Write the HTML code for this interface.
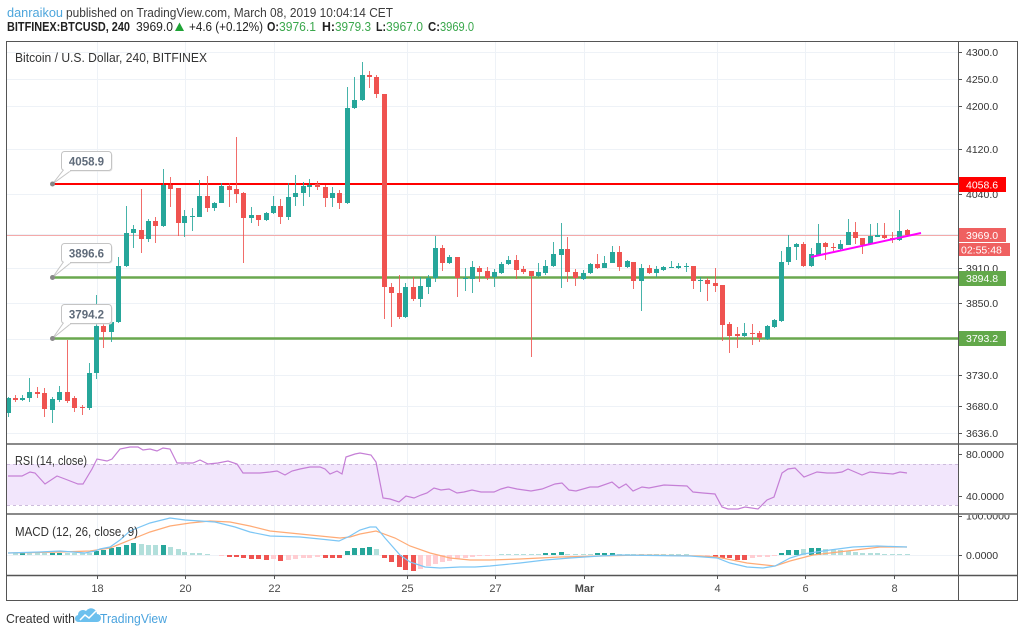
<!DOCTYPE html>
<html><head><meta charset="utf-8"><style>html,body{margin:0;padding:0;background:#fff}svg{display:block}</style></head>
<body>
<svg width="1024" height="635" viewBox="0 0 1024 635" xmlns="http://www.w3.org/2000/svg" font-family="'Liberation Sans', Arial, sans-serif">
<rect width="1024" height="635" fill="#fff"/>
<!-- header -->
<text x="7" y="17" font-size="12.5" fill="#4ea6dc" textLength="56" lengthAdjust="spacingAndGlyphs">danraikou</text>
<text x="66" y="17" font-size="12.5" fill="#3c3c3c" textLength="327" lengthAdjust="spacingAndGlyphs">published on TradingView.com, March 08, 2019 10:04:14 CET</text>
<g font-size="12.5" fill="#222">
<text x="7" y="31" font-weight="bold" textLength="123" lengthAdjust="spacingAndGlyphs">BITFINEX:BTCUSD, 240</text>
<text x="136" y="31" textLength="37" lengthAdjust="spacingAndGlyphs">3969.0</text>
<polygon points="175,31 184,31 179.5,22.5" fill="#1fa336"/>
<text x="189" y="31" textLength="74" lengthAdjust="spacingAndGlyphs">+4.6 (+0.12%)</text>
<text x="267" y="31" font-weight="bold" textLength="12" lengthAdjust="spacingAndGlyphs">O:</text>
<text x="279" y="31" fill="#3aa74c" textLength="37" lengthAdjust="spacingAndGlyphs">3976.1</text>
<text x="322" y="31" font-weight="bold" textLength="13" lengthAdjust="spacingAndGlyphs">H:</text>
<text x="335" y="31" fill="#3aa74c" textLength="36" lengthAdjust="spacingAndGlyphs">3979.3</text>
<text x="376" y="31" font-weight="bold" textLength="10" lengthAdjust="spacingAndGlyphs">L:</text>
<text x="386" y="31" fill="#3aa74c" textLength="37" lengthAdjust="spacingAndGlyphs">3967.0</text>
<text x="428" y="31" font-weight="bold" textLength="12" lengthAdjust="spacingAndGlyphs">C:</text>
<text x="440" y="31" fill="#3aa74c" textLength="34" lengthAdjust="spacingAndGlyphs">3969.0</text>
</g>

<!-- grid -->
<g stroke="#eef2f7" stroke-width="1">
<path d="M7 52.5H958M7 79.5H958M7 106.5H958M7 149.5H958M7 194.5H958M7 234.5H958M7 268.5H958M7 303.5H958M7 339.5H958M7 375.5H958M7 406.5H958M7 433.5H958M7 555.5H958"/>
<path d="M97.5 42V575M185.5 42V575M274.5 42V575M407.5 42V575M495.5 42V575M584.5 42V575M717.5 42V575M805.5 42V575M894.5 42V575"/>
</g>

<!-- RSI band -->
<rect x="7" y="464" width="951" height="41" fill="#f2e6fc"/>
<path d="M7 464.5H958M7 505.5H958" stroke="#cdbcdc" stroke-dasharray="3 3" stroke-width="1"/>

<!-- current price line -->
<path d="M7 235.5H958" stroke="#f4a9a9" stroke-width="1"/>
<!-- horizontal levels -->
<path d="M52 184H958" stroke="#ff0000" stroke-width="2"/>
<path d="M52 277.5H958M52 338.5H958" stroke="#6aa84f" stroke-width="2.5"/>

<!-- candles -->
<path fill="none" stroke="#26a69a" stroke-width="1" stroke-opacity="0.85" d="M8.5 397V417M22.5 395V401M29.5 378V402M52.5 397V423M59.5 386V402M89.5 363V410M96.5 295V379M111.5 320V342M118.5 257V323M126.5 206V267M133.5 225V248M148.5 219V242M163.5 169V227M184.5 210V237M192.5 208V231M199.5 180V217M214.5 202V211M221.5 183V203M251.5 207V223M266.5 212V221M273.5 196V214M288.5 183V220M295.5 175V206M303.5 182V206M309.5 179V197M332.5 187V207M347.5 87V204M354.5 77V109M362.5 62V101M405.5 283V318M420.5 277V307M428.5 275V294M435.5 236V282M449.5 255V264M465.5 268V291M472.5 261V293M494.5 269V287M501.5 262V274M508.5 256V265M538.5 263V277M545.5 260V275M553.5 242V267M561.5 223V288M583.5 270V280M590.5 263V274M604.5 256V268M612.5 246V263M627.5 260V268M641.5 264V311M656.5 266V277M663.5 266V271M671.5 261V268M678.5 263V269M686.5 263V272M700.5 277V292M744.5 323V337M767.5 325V340M774.5 319V328M781.5 251V322M788.5 235V265M796.5 243V260M811.5 248V267M818.5 224V256M840.5 240V251M848.5 219V245M870.5 224V244M877.5 223V237M899.5 210V241"/>
<path fill="#26a69a" d="M6 398h5v15h-5zM20 398h5v2h-5zM27 392h5v6h-5zM50 399h5v11h-5zM57 392h5v8h-5zM87 373h5v35h-5zM94 326h5v47h-5zM109 322h5v10h-5zM116 266h5v56h-5zM124 233h5v33h-5zM131 229h5v4h-5zM146 221h5v18h-5zM161 185h5v41h-5zM182 216h5v7h-5zM190 216h5v1h-5zM197 196h5v21h-5zM212 203h5v5h-5zM219 186h5v17h-5zM249 215h5v3h-5zM264 213h5v7h-5zM271 206h5v7h-5zM286 197h5v20h-5zM293 193h5v4h-5zM301 186h5v7h-5zM307 185h5v2h-5zM330 193h5v5h-5zM345 108h5v95h-5zM352 100h5v8h-5zM360 75h5v25h-5zM403 287h5v30h-5zM418 286h5v13h-5zM426 278h5v9h-5zM433 248h5v30h-5zM447 257h5v6h-5zM463 278h5v1h-5zM470 267h5v12h-5zM492 272h5v5h-5zM499 264h5v9h-5zM506 260h5v4h-5zM536 272h5v4h-5zM543 266h5v7h-5zM551 254h5v12h-5zM559 249h5v6h-5zM581 273h5v6h-5zM588 264h5v9h-5zM602 263h5v5h-5zM610 252h5v11h-5zM625 261h5v6h-5zM639 268h5v13h-5zM654 269h5v4h-5zM661 267h5v3h-5zM669 267h5v1h-5zM676 266h5v2h-5zM684 266h5v1h-5zM698 280h5v1h-5zM742 333h5v3h-5zM765 326h5v13h-5zM772 320h5v7h-5zM779 262h5v59h-5zM786 247h5v15h-5zM794 244h5v3h-5zM809 254h5v12h-5zM816 243h5v12h-5zM838 244h5v5h-5zM846 232h5v13h-5zM868 236h5v8h-5zM875 235h5v2h-5zM897 231h5v9h-5z"/>
<path fill="none" stroke="#ef5350" stroke-width="1" stroke-opacity="0.85" d="M15.5 395V402M37.5 387V398M44.5 388V417M67.5 340V403M74.5 396V412M82.5 405V415M103.5 322V348M141.5 189V253M155.5 217V243M170.5 177V207M178.5 188V236M207.5 176V212M229.5 183V207M236.5 137V203M243.5 192V263M258.5 215V226M280.5 199V224M317.5 181V190M325.5 185V207M339.5 190V209M369.5 71V88M376.5 75V98M384.5 94V319M391.5 283V327M399.5 275V319M413.5 277V301M442.5 245V271M457.5 257V297M479.5 266V282M487.5 267V280M516.5 255V279M523.5 266V274M531.5 271V357M567.5 237V282M575.5 269V286M597.5 254V269M619.5 246V271M633.5 262V289M649.5 265V274M693.5 266V289M707.5 278V301M715.5 268V292M722.5 285V341M729.5 322V353M737.5 327V348M752.5 324V345M759.5 331V342M803.5 242V267M825.5 242V260M833.5 243V251M855.5 222V244M862.5 238V254M884.5 223V239M892.5 232V243M907.5 229V236"/>
<path fill="#ef5350" d="M13 398h5v2h-5zM35 392h5v2h-5zM42 393h5v16h-5zM65 392h5v9h-5zM72 398h5v10h-5zM80 407h5v1h-5zM101 326h5v6h-5zM139 230h5v9h-5zM153 221h5v5h-5zM168 185h5v4h-5zM176 188h5v35h-5zM205 196h5v12h-5zM227 186h5v4h-5zM234 189h5v5h-5zM241 193h5v25h-5zM256 215h5v5h-5zM278 206h5v11h-5zM315 184h5v3h-5zM323 187h5v11h-5zM337 193h5v10h-5zM367 75h5v2h-5zM374 77h5v17h-5zM382 94h5v193h-5zM389 287h5v6h-5zM397 293h5v24h-5zM411 287h5v12h-5zM440 248h5v15h-5zM455 257h5v21h-5zM477 268h5v4h-5zM485 271h5v7h-5zM514 260h5v10h-5zM521 269h5v3h-5zM529 271h5v5h-5zM565 249h5v23h-5zM573 272h5v6h-5zM595 264h5v4h-5zM617 252h5v15h-5zM631 262h5v19h-5zM647 268h5v5h-5zM691 266h5v15h-5zM705 280h5v4h-5zM713 283h5v3h-5zM720 285h5v40h-5zM727 324h5v12h-5zM735 334h5v2h-5zM750 333h5v1h-5zM757 333h5v5h-5zM801 244h5v22h-5zM823 243h5v4h-5zM831 247h5v1h-5zM853 232h5v6h-5zM860 238h5v7h-5zM882 235h5v3h-5zM890 238h5v2h-5zM905 230h5v5h-5z"/>

<!-- trend line -->
<path d="M811 257L921 233" stroke="#ff00ff" stroke-width="2"/>

<!-- callouts -->
<g font-size="11.5" font-weight="bold" fill="#5f6b7a" text-anchor="middle">
<rect x="62.5" y="152.5" width="50" height="19" rx="3" fill="#e4e4e4"/>
<rect x="61.5" y="151.5" width="50" height="19" rx="3" fill="#fff" stroke="#c4c4c4"/>
<path d="M63 170.5L52.5 184L71 170.5" fill="#fff" stroke="#c4c4c4"/>
<path d="M64 170.5H70" stroke="#fff" stroke-width="1.5"/>
<circle cx="52.5" cy="184" r="2.5" fill="#888"/>
<text x="86.5" y="165.5">4058.9</text>

<rect x="62.5" y="244.5" width="50" height="19" rx="3" fill="#e4e4e4"/>
<rect x="61.5" y="243.5" width="50" height="19" rx="3" fill="#fff" stroke="#c4c4c4"/>
<path d="M63 262.5L52.5 277.5L71 262.5" fill="#fff" stroke="#c4c4c4"/>
<path d="M64 262.5H70" stroke="#fff" stroke-width="1.5"/>
<circle cx="52.5" cy="277.5" r="2.5" fill="#888"/>
<text x="86.5" y="257.5">3896.6</text>

<rect x="62.5" y="305.5" width="50" height="19" rx="3" fill="#e4e4e4"/>
<rect x="61.5" y="304.5" width="50" height="19" rx="3" fill="#fff" stroke="#c4c4c4"/>
<path d="M63 323.5L52.5 338.5L71 323.5" fill="#fff" stroke="#c4c4c4"/>
<path d="M64 323.5H70" stroke="#fff" stroke-width="1.5"/>
<circle cx="52.5" cy="338.5" r="2.5" fill="#888"/>
<text x="86.5" y="318.5">3794.2</text>
</g>

<!-- RSI -->
<polyline fill="none" stroke="#c57fd6" stroke-width="1.2" points="8,476 22,476 30,472 35,473 45,484 57,476 65,479 78,484 83,484 92,469 97,459 107,461 112,459 120,449 130,447 138,447 143,450 150,449 157,451 163,448 170,449 177,463 193,463 200,460 208,464 218,463 228,461 237,464 243,473 260,473 270,472 277,471 285,475 292,471 300,469 310,467 320,467 325,469 330,474 337,471 342,474 346,457 355,454 360,453 371,455 376,462 383,498 390,499 399,502 406,496 414,498 421,495 427,493 434,488 441,490 449,489 457,493 464,492 472,490 481,492 494,492 501,489 508,487 517,489 531,491 542,489 555,484 562,483 569,490 576,491 590,487 598,487 612,482 619,488 626,484 633,491 642,487 649,488 664,485 687,486 693,492 703,493 715,494 722,507 728,509 738,509 745,507 758,509 767,500 774,497 782,473 788,469 795,468 804,477 817,472 827,473 835,473 842,472 848,469 862,475 870,472 880,473 893,474 900,472 907,473"/>

<!-- MACD histogram -->
<path fill="#26a69a" d="M94 551h5v4h-5zM101 550h5v5h-5zM109 548h5v7h-5zM116 547h5v8h-5zM124 545h5v10h-5zM131 543h5v12h-5zM161 545h5v10h-5zM345 551h5v4h-5zM352 548h5v7h-5zM360 548h5v7h-5zM367 547h5v8h-5zM543 553h5v2h-5zM551 553h5v2h-5zM559 552h5v3h-5zM595 553h5v2h-5zM602 553h5v2h-5zM610 553h5v2h-5zM779 553h5v2h-5zM786 550h5v5h-5zM794 550h5v5h-5zM809 548h5v7h-5zM816 548h5v7h-5zM20 553h5v2h-5zM50 553h5v2h-5zM57 553h5v2h-5z"/>
<path fill="#b2dfdb" d="M13 553h5v2h-5zM27 553h5v2h-5zM35 553h5v2h-5zM42 553h5v2h-5zM65 553h5v2h-5zM72 553h5v2h-5zM80 553h5v2h-5zM87 553h5v2h-5zM139 544h5v11h-5zM146 545h5v10h-5zM153 545h5v10h-5zM168 547h5v8h-5zM176 549h5v6h-5zM182 552h5v3h-5zM190 553h5v2h-5zM197 553h5v2h-5zM205 554h5v1h-5zM374 549h5v6h-5zM499 554h5v1h-5zM506 554h5v1h-5zM514 554h5v1h-5zM521 554h5v1h-5zM529 554h5v1h-5zM536 554h5v1h-5zM565 554h5v1h-5zM573 554h5v1h-5zM581 554h5v1h-5zM588 554h5v1h-5zM617 554h5v1h-5zM625 554h5v1h-5zM631 554h5v1h-5zM639 554h5v1h-5zM647 554h5v1h-5zM654 554h5v1h-5zM661 554h5v1h-5zM669 554h5v1h-5zM676 554h5v1h-5zM684 554h5v1h-5zM801 549h5v6h-5zM823 549h5v6h-5zM831 550h5v5h-5zM838 550h5v5h-5zM846 551h5v4h-5zM853 552h5v3h-5zM860 553h5v2h-5zM868 553h5v2h-5zM875 553h5v2h-5zM882 554h5v1h-5zM890 554h5v1h-5zM897 554h5v1h-5zM905 554h5v1h-5z"/>
<path fill="#ef5350" d="M227 555h5v2h-5zM234 555h5v2h-5zM241 555h5v3h-5zM249 555h5v4h-5zM256 555h5v4h-5zM264 555h5v5h-5zM278 555h5v6h-5zM323 555h5v3h-5zM330 555h5v3h-5zM337 555h5v3h-5zM382 555h5v3h-5zM389 555h5v7h-5zM397 555h5v12h-5zM403 555h5v15h-5zM411 555h5v16h-5zM713 555h5v2h-5zM720 555h5v3h-5zM727 555h5v3h-5zM735 555h5v5h-5zM742 555h5v5h-5z"/>
<path fill="#ffcdd2" d="M219 555h5v1h-5zM271 555h5v4h-5zM286 555h5v5h-5zM293 555h5v4h-5zM301 555h5v3h-5zM307 555h5v3h-5zM315 555h5v2h-5zM418 555h5v14h-5zM426 555h5v11h-5zM433 555h5v9h-5zM440 555h5v7h-5zM447 555h5v6h-5zM455 555h5v4h-5zM463 555h5v3h-5zM470 555h5v2h-5zM477 555h5v1h-5zM485 555h5v1h-5zM705 555h5v1h-5zM750 555h5v3h-5zM757 555h5v2h-5zM765 555h5v2h-5zM772 555h5v1h-5z"/>
<!-- MACD lines -->
<polyline fill="none" stroke="#ffab76" stroke-width="1.2" points="8,553 60,552 90,551 110,548 130,540 150,532 170,526 190,523 210,521 230,522 250,526 270,531 300,534 320,536 340,538 350,537 360,534 376,531 395,538 410,546 430,553 450,558 470,560 490,560 520,559 560,557 600,556 640,555 700,556 717,557 747,563 775,566 790,561 813,555 847,551 880,547 907,547"/>
<polyline fill="none" stroke="#7cc6f5" stroke-width="1.2" points="8,553 40,552 60,551 85,553 95,551 100,549 110,547 120,540 130,531 150,523 170,518 185,520 200,521 215,522 235,527 250,532 270,536 300,537 320,539 339,541 350,536 360,530 370,527 376,527 385,538 400,555 410,562 425,567 440,568 460,567 475,567 490,566 520,563 545,560 570,558 600,556 620,555 690,556 717,558 730,563 747,567 763,568 775,566 790,558 803,554 830,550 853,547 877,546 907,547"/>

<!-- pane labels -->
<g fill="#333" font-size="12.5">
<text x="15" y="62" textLength="192" lengthAdjust="spacingAndGlyphs">Bitcoin / U.S. Dollar, 240, BITFINEX</text>
<text x="15" y="465" textLength="72" lengthAdjust="spacingAndGlyphs">RSI (14, close)</text>
<text x="15" y="536" textLength="123" lengthAdjust="spacingAndGlyphs">MACD (12, 26, close, 9)</text>
</g>

<!-- right axis -->
<rect x="959" y="42" width="58" height="558" fill="#fff"/>
<path stroke="#555" stroke-width="1" d="M958 52.5h4M958 79.5h4M958 106.5h4M958 149.5h4M958 194.5h4M958 268.5h4M958 303.5h4M958 375.5h4M958 406.5h4M958 433.5h4M958 454.5h4M958 496.5h4M958 516.5h4M958 555.5h4"/>
<g font-size="10.5" fill="#333">
<text x="966" y="56">4300.0</text>
<text x="966" y="83">4250.0</text>
<text x="966" y="110">4200.0</text>
<text x="966" y="153">4120.0</text>
<text x="966" y="198">4040.0</text>
<text x="966" y="272">3910.0</text>
<text x="966" y="307">3850.0</text>
<text x="966" y="379">3730.0</text>
<text x="966" y="410">3680.0</text>
<text x="966" y="437">3636.0</text>
<text x="966" y="458">80.0000</text>
<text x="966" y="500">40.0000</text>
<text x="966" y="519.5">100.0000</text>
<text x="966" y="559">0.0000</text>
</g>
<rect x="959" y="505" width="57" height="9" fill="#fff"/>
<!-- price labels -->
<g font-size="10.5" fill="#fff">
<rect x="958" y="177" width="48" height="15" fill="#ff0000"/>
<text x="966" y="188.5">4058.6</text>
<rect x="958" y="228" width="48" height="14" fill="#ef6060"/>
<text x="966" y="239">3969.0</text>
<rect x="958" y="243" width="52" height="13" fill="#ef6060"/>
<text x="961" y="253.5">02:55:48</text>
<rect x="958" y="271" width="48" height="15" fill="#62a84a"/>
<text x="966" y="282">3894.8</text>
<rect x="958" y="331" width="48" height="15" fill="#62a84a"/>
<text x="966" y="342">3793.2</text>
</g>

<!-- time axis -->
<rect x="7" y="576" width="951" height="24" fill="#fff"/>
<path stroke="#555" stroke-width="1" d="M97.5 575v4M185.5 575v4M274.5 575v4M407.5 575v4M495.5 575v4M584.5 575v4M717.5 575v4M805.5 575v4M894.5 575v4"/>
<g font-size="11" fill="#4a4a4a" text-anchor="middle">
<text x="97.5" y="592">18</text>
<text x="185.5" y="592">20</text>
<text x="274.5" y="592">22</text>
<text x="407.5" y="592">25</text>
<text x="495.5" y="592">27</text>
<text x="584.5" y="592" font-weight="bold">Mar</text>
<text x="717.5" y="592">4</text>
<text x="805.5" y="592">6</text>
<text x="894.5" y="592">8</text>
</g>

<!-- frame and separators -->
<path d="M6 444H1017M6 514H1017" stroke="#8a8a8a" stroke-width="2"/>
<path d="M6 575.5H1017" stroke="#555" stroke-width="1.5"/>
<path d="M958.5 41V600" stroke="#555" stroke-width="1"/>
<rect x="6.5" y="41.5" width="1011" height="559" fill="none" stroke="#555" stroke-width="1"/>

<!-- footer -->
<text x="6" y="623" font-size="13" fill="#333" textLength="69" lengthAdjust="spacingAndGlyphs">Created with</text>
<path d="M79 622h18a4 4 0 0 0 0-8a6 6 0 0 0-11-3a5 5 0 0 0-8 4a3.5 3.5 0 0 0 1 7z" fill="#6cc0ee"/>
<path d="M80 620L85 615L89 618L96 611" stroke="#fff" stroke-width="1.5" fill="none"/>
<text x="100" y="623" font-size="13" fill="#4aa3de" textLength="67" lengthAdjust="spacingAndGlyphs">TradingView</text>
</svg>
</body></html>
